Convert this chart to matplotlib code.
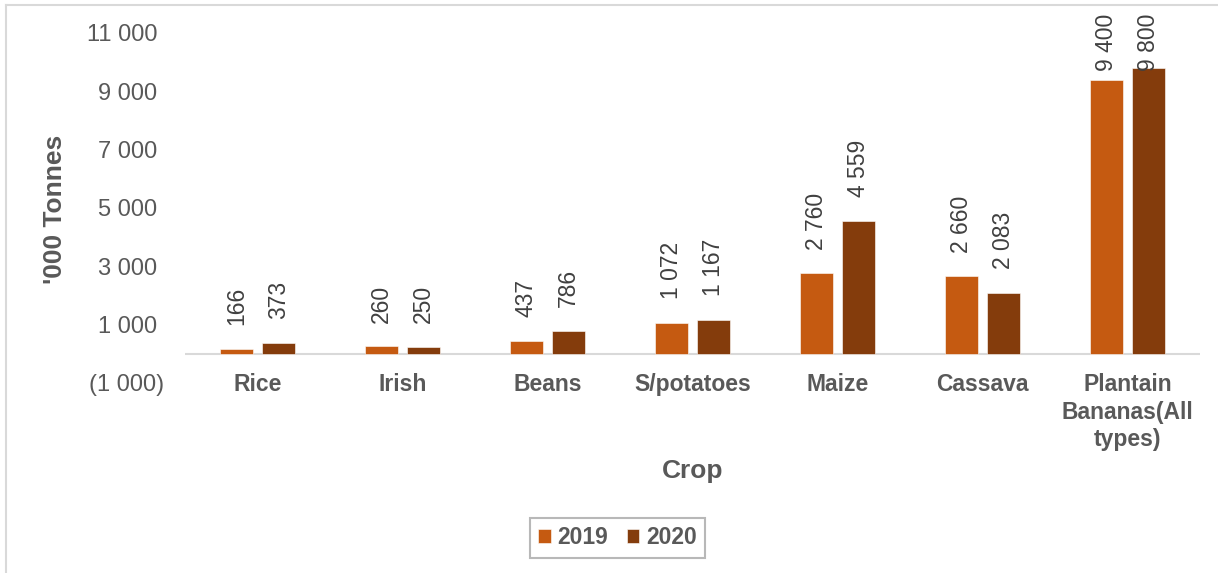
import matplotlib
matplotlib.use("Agg")
import matplotlib.pyplot as plt
import matplotlib.transforms as mtransforms
from matplotlib.lines import Line2D
import numpy as np

plt.rcParams['font.family'] = ['Liberation Sans', 'DejaVu Sans']

crops = ["Rice", "Irish", "Beans", "S/potatoes", "Maize", "Cassava",
         "Plantain\nBananas(All\ntypes)"]
years = ["2019", "2020"]
values_2019 = [166, 260, 437, 1072, 2760, 2660, 9400]
values_2020 = [373, 250, 786, 1167, 4559, 2083, 9800]
yticks = [-1000, 1000, 3000, 5000, 7000, 9000, 11000]

colors = ["#C55A11", "#843C0C"]
tick_color = "#595959"
label_color = "#404040"

W, H = 1218, 573
fig = plt.figure(figsize=(W / 100, H / 100), dpi=100)
ax = fig.add_axes([185 / W, 1 - 383 / H, (1200 - 185) / W, (383 - 33) / H])

def fmt(v):
    s = f"{abs(int(v)):,}".replace(",", " ")
    return f"({s})" if v < 0 else s

x = np.arange(len(crops))
bw = 0.228
off = 0.145
series = [values_2019, values_2020]
bars = []
for k, (vals, col, lab) in enumerate(zip(series, colors, years)):
    b = ax.bar(x + (-off if k == 0 else off), vals, width=bw, color=col,
               edgecolor="#FFFFFF", linewidth=0.4, label=lab, zorder=3)
    bars.append(b)

ax.set_xlim(-0.5, len(crops) - 0.5)
ax.set_ylim(-1000, 11000)
ax.set_yticks(yticks)
ax.set_yticklabels([fmt(v) for v in yticks])
ax.set_xticks(x)
ax.set_xticklabels(crops, fontweight="bold", fontsize=16.5, color=tick_color,
                   linespacing=1.25)
ax.tick_params(axis="x", length=0, pad=-7)
ax.tick_params(axis="y", length=0, pad=20, labelsize=17, labelcolor=tick_color)
for s in ax.spines.values():
    s.set_visible(False)
ax.axhline(0, color="#D9D9D9", linewidth=1.5, zorder=2)

# shift negative tick label right (Excel parenthesis padding)
for t, v in zip(ax.get_yticklabels(), yticks):
    if v < 0:
        t.set_transform(t.get_transform() +
                        mtransforms.ScaledTranslation(7 / 100, 0, fig.dpi_scale_trans))

# data labels
anns = []
for k, vals in enumerate(series):
    for xi, v in zip(x, vals):
        a = ax.annotate(fmt(v), xy=(xi + (-off if k == 0 else off), v),
                        xytext=(0, 17), textcoords="offset points",
                        rotation=90, ha="center", va="bottom",
                        fontsize=16.5, color=label_color, zorder=4)
        anns.append(a)

fig.canvas.draw()
renderer = fig.canvas.get_renderer()
limit = H - 14
for a in anns:
    bb = a.get_window_extent(renderer)
    if bb.y1 > limit:
        dy_px = bb.y1 - limit
        ox, oy = a.xyann
        a.xyann = (ox, oy - dy_px * 72 / 100)

fig.text(55 / W, 1 - 209 / H, "'000 Tonnes", rotation=90, ha="center",
         va="center", fontsize=19, fontweight="bold", color=tick_color)
fig.text(692.5 / W, 1 - 471 / H, "Crop", ha="center", va="center",
         fontsize=19, fontweight="bold", color=tick_color)

leg = fig.legend(handles=bars, labels=years, loc="center",
                 bbox_to_anchor=(617.5 / W, 1 - 538 / H), ncol=2,
                 fontsize=16.5, frameon=True, fancybox=False,
                 handlelength=0.55, handleheight=0.55, handletextpad=0.3,
                 columnspacing=0.8, borderpad=0.35)
leg.get_frame().set_edgecolor("#A6A6A6")
leg.get_frame().set_linewidth(1.5)
for t in leg.get_texts():
    t.set_fontweight("bold")
    t.set_color(tick_color)

# chart area border (left and top visible)
fig.add_artist(Line2D([6 / W, 6 / W], [0, 1 - 5 / H], transform=fig.transFigure,
                      color="#D9D9D9", linewidth=1.5))
fig.add_artist(Line2D([6 / W, 1], [1 - 5 / H, 1 - 5 / H], transform=fig.transFigure,
                      color="#D9D9D9", linewidth=1.5))

fig.savefig("out.png", dpi=100)
